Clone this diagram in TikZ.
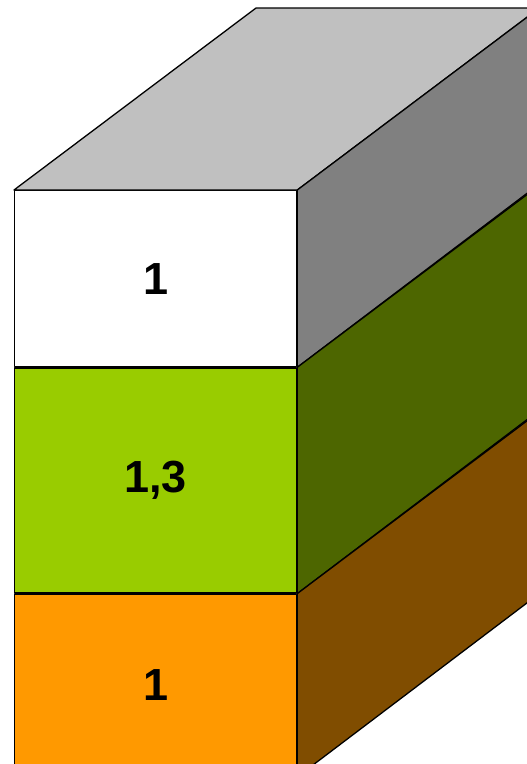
\documentclass[tikz,border=0pt]{standalone}
\usepackage{fontspec}
\setmainfont{Liberation Sans}
\usepackage{xcolor}
\usetikzlibrary{positioning,calc}
\definecolor{topgray}{HTML}{C0C0C0}
\definecolor{sidegray}{HTML}{808080}
\definecolor{layergreen}{HTML}{99CC00}
\definecolor{sidegreen}{HTML}{4D6600}
\definecolor{layerorange}{HTML}{FF9900}
\definecolor{sideorange}{HTML}{804D00}
\tikzset{
  face/.style={draw, line width=1.3pt, line join=round, minimum width=282pt, inner sep=0pt,
    font=\fontsize{45}{50}\selectfont\bfseries},
  side/.style={draw, line width=1.3pt, line join=round}
}

\begin{document}
\begin{tikzpicture}[x=1pt, y=-1pt]
        \useasboundingbox (0,0) rectangle (527,764);
        \clip (0,0) rectangle (527,764);
        \node[face, fill=white, minimum height=176pt, anchor=north west] (soil1) at (14,190) {1};
        \node[face, fill=layergreen, minimum height=225pt, below=0pt of soil1] (soil2) {1,3};
        \node[face, fill=layerorange, minimum height=182pt, below=0pt of soil2] (soil3) {1};
        % top and side faces
        \draw[side, fill=topgray] (soil1.north west) -- ++(242,-182) -- ++(282,0) -- ($(soil1.north east)+(242,-182)$) -- (soil1.north east) -- cycle;
        \draw[side, fill=sidegray] (soil1.north east) -- ++(242,-182) -- ++(0,176) -- (soil1.south east) -- cycle;
        \draw[side, fill=sidegreen] (soil2.north east) -- ++(242,-182) -- ++(0,225) -- (soil2.south east) -- cycle;
        \draw[side, fill=sideorange] (soil3.north east) -- ++(242,-182) -- ++(0,182) -- (soil3.south east) -- cycle;
      \end{tikzpicture}
\end{document}
